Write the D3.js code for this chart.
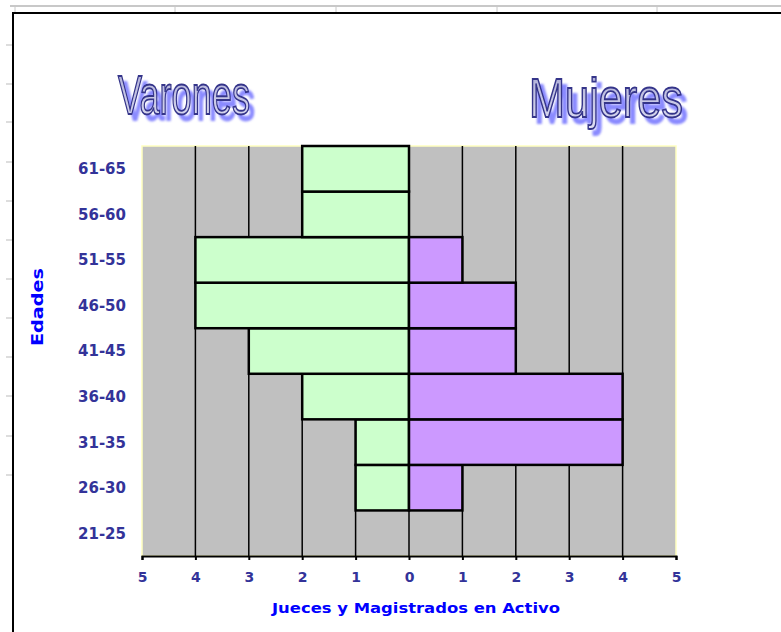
<!DOCTYPE html>
<html>
<head>
<meta charset="utf-8">
<script src="https://cdn.jsdelivr.net/npm/d3@7"></script>
<style>
  body { margin: 0; background: #fff; }
  svg { display: block; }
</style>
</head>
<body>
<script>
var width = 781;
var height = 632;

// age groups, bottom to top
var edades = ['21-25', '26-30', '31-35', '36-40', '41-45', '46-50', '51-55', '56-60', '61-65'];
var varones = [0, 1, 1, 2, 3, 4, 4, 2, 2];
var mujeres = [0, 1, 4, 4, 2, 2, 1, 0, 0];
var xTicks = [-5, -4, -3, -2, -1, 0, 1, 2, 3, 4, 5];

var plot = { left: 142, right: 676, top: 146, bottom: 556 };

var svg = d3.select('body')
            .append('svg')
            .attr('width', width)
            .attr('height', height);

// spreadsheet leftovers around the chart object
svg.append('line')
    .attr('x1', 10).attr('x2', width).attr('y1', 6).attr('y2', 6)
    .attr('stroke', '#c8c8c8').attr('stroke-width', 2);
[15, 175, 336, 497, 657].forEach(function (x) {
  svg.append('line')
      .attr('x1', x).attr('x2', x).attr('y1', 6).attr('y2', 13)
      .attr('stroke', '#c8c8c8');
});
[45, 84, 122, 162, 201, 240, 279, 318, 357, 396, 436, 475].forEach(function (y) {
  svg.append('line')
      .attr('x1', 6).attr('x2', 12).attr('y1', y).attr('y2', y)
      .attr('stroke', '#bbbbbb');
});

// chart frame
svg.append('path')
    .attr('d', 'M13,' + (height + 5) + ' L13,13 L' + (width + 5) + ',13')
    .attr('fill', 'none')
    .attr('stroke', '#000')
    .attr('stroke-width', 2);

var xScale = d3.scaleLinear()
                .domain([-5, 5])
                .range([plot.left, plot.right]);

var yScale = d3.scaleBand()
                .domain(edades)
                .range([plot.bottom, plot.top])
                .padding(0);

// plot background
svg.append('rect')
    .attr('x', plot.left)
    .attr('y', plot.top)
    .attr('width', plot.right - plot.left)
    .attr('height', plot.bottom - plot.top)
    .attr('fill', '#c0c0c0')
    .attr('stroke', '#ffffc0')
    .attr('stroke-width', 1.5);

// vertical grid lines
svg.append('g')
    .selectAll('line')
    .data(xTicks.filter(function (d) { return Math.abs(d) < 5; }))
    .enter()
    .append('line')
    .attr('x1', function (d) { return xScale(d); })
    .attr('x2', function (d) { return xScale(d); })
    .attr('y1', plot.top)
    .attr('y2', plot.bottom)
    .attr('stroke', '#000')
    .attr('stroke-width', 1.5);

var rows = edades.map(function (e, i) {
  return { edad: e, v: varones[i], m: mujeres[i] };
});

// men to the left
svg.append('g')
    .selectAll('rect')
    .data(rows.filter(function (d) { return d.v > 0; }))
    .enter()
    .append('rect')
    .attr('x', function (d) { return xScale(-d.v); })
    .attr('y', function (d) { return yScale(d.edad); })
    .attr('width', function (d) { return xScale(0) - xScale(-d.v); })
    .attr('height', yScale.bandwidth())
    .attr('fill', '#ccffcc')
    .attr('stroke', '#000')
    .attr('stroke-width', 2.5);

// women to the right
svg.append('g')
    .selectAll('rect')
    .data(rows.filter(function (d) { return d.m > 0; }))
    .enter()
    .append('rect')
    .attr('x', xScale(0))
    .attr('y', function (d) { return yScale(d.edad); })
    .attr('width', function (d) { return xScale(d.m) - xScale(0); })
    .attr('height', yScale.bandwidth())
    .attr('fill', '#cc99ff')
    .attr('stroke', '#000')
    .attr('stroke-width', 2.5);

// x axis
var xAxis = svg.append('g')
    .attr('transform', `translate(0,${plot.bottom})`)
    .call(d3.axisBottom(xScale)
            .tickValues(xTicks)
            .tickSize(4)
            .tickPadding(12)
            .tickFormat(function (d) { return Math.abs(d); }));
xAxis.select('.domain').attr('stroke', '#000').attr('stroke-width', 2);
xAxis.selectAll('.tick line').attr('stroke', '#000').attr('stroke-width', 2);
xAxis.selectAll('text')
    .attr('fill', '#333399')
    .style('font-family', 'DejaVu Sans')
    .style('font-weight', 'bold')
    .style('font-size', '14px');

// y axis labels
svg.append('g')
    .selectAll('text')
    .data(edades)
    .enter()
    .append('text')
    .attr('x', 126)
    .attr('y', function (d) { return yScale(d) + yScale.bandwidth() / 2; })
    .attr('dy', '0.36em')
    .attr('text-anchor', 'end')
    .attr('fill', '#333399')
    .style('font-family', 'DejaVu Sans')
    .style('font-weight', 'bold')
    .style('font-size', '15px')
    .text(function (d) { return d; });

// axis titles
svg.append('text')
    .attr('x', 416)
    .attr('y', 613)
    .attr('text-anchor', 'middle')
    .attr('textLength', 288)
    .attr('lengthAdjust', 'spacingAndGlyphs')
    .attr('fill', '#0000ff')
    .style('font-family', 'DejaVu Sans')
    .style('font-weight', 'bold')
    .style('font-size', '14px')
    .text('Jueces y Magistrados en Activo');

svg.append('text')
    .attr('transform', 'translate(43,307) rotate(-90)')
    .attr('text-anchor', 'middle')
    .attr('textLength', 78)
    .attr('lengthAdjust', 'spacingAndGlyphs')
    .attr('fill', '#0000ff')
    .style('font-family', 'DejaVu Sans')
    .style('font-weight', 'bold')
    .style('font-size', '16px')
    .text('Edades');

// word-art style headings, shadow done with a filter
var defs = svg.append('defs');
var shadow = defs.append('filter')
    .attr('id', 'shadow')
    .attr('x', '-10%').attr('y', '-20%')
    .attr('width', '130%').attr('height', '150%');
shadow.append('feGaussianBlur')
    .attr('in', 'SourceAlpha')
    .attr('stdDeviation', 1.2)
    .attr('result', 'b');
shadow.append('feOffset')
    .attr('in', 'b')
    .attr('dx', 5).attr('dy', 6)
    .attr('result', 'o');
shadow.append('feFlood')
    .attr('flood-color', '#6d6dff')
    .attr('flood-opacity', 0.8)
    .attr('result', 'c');
shadow.append('feComposite')
    .attr('in', 'c').attr('in2', 'o')
    .attr('operator', 'in')
    .attr('result', 's');
var merge = shadow.append('feMerge');
merge.append('feMergeNode').attr('in', 's');
merge.append('feMergeNode').attr('in', 'SourceGraphic');

var grad = defs.append('linearGradient')
    .attr('id', 'wa')
    .attr('x1', 0).attr('y1', 0).attr('x2', 0).attr('y2', 1);
grad.append('stop').attr('offset', '0%').attr('stop-color', '#a8a8d4');
grad.append('stop').attr('offset', '100%').attr('stop-color', '#e0e0f2');

function wordArt(label, x, y, len) {
  svg.append('text')
      .attr('x', x).attr('y', y)
      .attr('textLength', len)
      .attr('lengthAdjust', 'spacingAndGlyphs')
      .attr('fill', 'url(#wa)')
      .attr('stroke', '#34348a')
      .attr('stroke-width', 1.8)
      .attr('filter', 'url(#shadow)')
      .style('font-family', 'Liberation Sans')
      .style('font-size', '56px')
      .text(label);
}

wordArt('Varones', 118, 114, 132);
wordArt('Mujeres', 529, 117, 154);
</script>
</body>
</html>
